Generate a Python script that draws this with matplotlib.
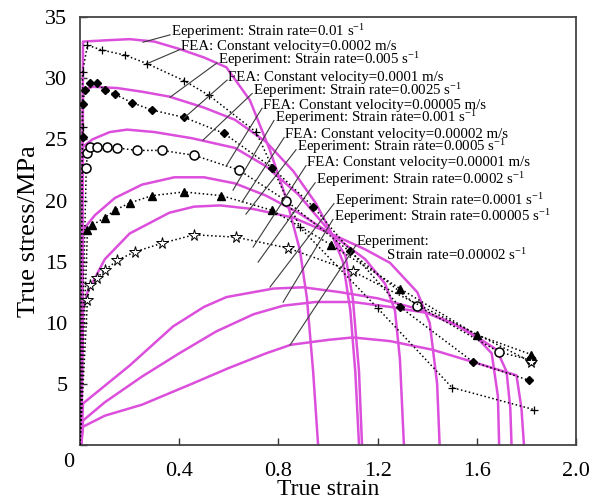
import matplotlib
matplotlib.use('Agg')
import matplotlib.pyplot as plt

plt.rcParams['font.family'] = ['Liberation Serif', 'DejaVu Serif']
plt.rcParams['mathtext.fontset'] = 'custom'
plt.rcParams['mathtext.rm'] = 'Liberation Serif'
plt.rcParams['mathtext.it'] = 'Liberation Serif:italic'

PINK = '#dc4fdc'

# experiment curves (solid pink), strain / stress in MPa
exp_01_x = [0.005, 0.012, 0.1, 0.2, 0.3, 0.4, 0.5, 0.59, 0.685, 0.766, 0.834, 0.887, 0.915, 0.94, 0.96]
exp_01_y = [0, 33.0, 33.1, 33.2, 33.0, 32.4, 31.7, 30.9, 28.2, 24.1, 20.0, 15.9, 12.0, 6.0, 0]
exp_02_x = [0.005, 0.012, 0.05, 0.15, 0.25, 0.36, 0.5, 0.625, 0.75, 0.86, 0.95, 1.01, 1.06, 1.09, 1.11, 1.125]
exp_02_y = [0, 29.0, 29.3, 29.2, 28.9, 28.5, 27.6, 26.6, 24.8, 22.4, 19.8, 17.5, 15.0, 11.0, 6.0, 0]
exp_03_x = [0.005, 0.012, 0.05, 0.12, 0.19, 0.3, 0.45, 0.625, 0.75, 0.88, 1.01, 1.07, 1.1, 1.125, 1.137]
exp_03_y = [0, 24.4, 25.0, 25.6, 25.8, 25.6, 25.1, 24.3, 22.8, 20.5, 17.4, 15.5, 12.0, 6.0, 0]
exp_04_x = [0.005, 0.012, 0.06, 0.14, 0.25, 0.38, 0.5, 0.625, 0.75, 0.88, 1.01, 1.15, 1.23, 1.27, 1.29, 1.306]
exp_04_y = [0, 17.6, 18.8, 20.2, 21.3, 21.9, 21.9, 21.4, 20.4, 19.0, 17.3, 15.2, 13.2, 11.0, 7.0, 0]
exp_05_x = [0.005, 0.012, 0.03, 0.1, 0.2, 0.36, 0.46, 0.565, 0.7, 0.86, 1.01, 1.15, 1.25, 1.36, 1.41, 1.44, 1.45]
exp_05_y = [0, 11.0, 12.5, 15.2, 17.3, 19.0, 19.5, 19.6, 19.3, 18.6, 17.3, 16.0, 14.9, 12.5, 10.0, 5.0, 0]
exp_06_x = [0.005, 0.012, 0.2, 0.375, 0.5, 0.59, 0.78, 0.9, 1.05, 1.2, 1.35, 1.5, 1.6, 1.66, 1.685, 1.69]
exp_06_y = [0, 3.4, 6.5, 9.7, 11.3, 12.1, 12.8, 12.9, 12.5, 12.0, 11.2, 10.0, 8.8, 7.5, 4.0, 0]
exp_07_x = [0.005, 0.012, 0.1, 0.25, 0.4, 0.55, 0.7, 0.82, 0.95, 1.1, 1.25, 1.4, 1.55, 1.68, 1.72, 1.735, 1.74]
exp_07_y = [0, 2.0, 3.5, 5.6, 7.5, 9.3, 10.7, 11.4, 11.7, 11.7, 11.3, 10.8, 9.5, 7.8, 6.0, 3.0, 0]
exp_08_x = [0.005, 0.012, 0.1, 0.25, 0.45, 0.6, 0.75, 0.85, 1.0, 1.1, 1.25, 1.42, 1.6, 1.76, 1.78, 1.79]
exp_08_y = [0, 1.5, 2.4, 3.3, 5.0, 6.3, 7.5, 8.2, 8.6, 8.8, 8.5, 7.8, 6.7, 5.7, 3.0, 0]

# FEA curves (dotted black with markers)
fea_plus_x = [0.0, 0.01, 0.01, 0.03, 0.09, 0.18, 0.27, 0.42, 0.52, 0.71, 0.887, 1.2, 1.5, 1.83]
fea_plus_y = [0, 26.0, 30.5, 32.7, 32.3, 31.9, 31.2, 29.8, 28.6, 25.6, 17.8, 11.2, 4.7, 2.9]
fea_dia_x = [0.0, 0.01, 0.01, 0.02, 0.04, 0.07, 0.1, 0.14, 0.21, 0.29, 0.42, 0.58, 0.774, 0.94, 1.09, 1.29, 1.585, 1.81]
fea_dia_y = [0, 25.2, 27.9, 29.0, 29.6, 29.6, 29.0, 28.7, 28.0, 27.4, 26.8, 25.5, 22.7, 19.5, 15.9, 11.3, 6.8, 5.3]
fea_circ_x = [0.0, 0.025, 0.03, 0.04, 0.07, 0.11, 0.15, 0.23, 0.33, 0.46, 0.64, 0.83, 1.36, 1.69, 1.82]
fea_circ_y = [0, 22.7, 23.9, 24.4, 24.4, 24.4, 24.3, 24.1, 24.1, 23.7, 22.5, 20.0, 11.4, 7.6, 6.95]
fea_tri_x = [0.0, 0.03, 0.05, 0.1, 0.14, 0.2, 0.29, 0.42, 0.57, 0.774, 1.01, 1.29, 1.6, 1.82]
fea_tri_y = [0, 17.6, 18.0, 18.6, 19.2, 19.8, 20.4, 20.7, 20.4, 19.2, 16.4, 12.8, 9.0, 7.4]
fea_star_x = [0.0, 0.03, 0.04, 0.07, 0.1, 0.15, 0.22, 0.33, 0.46, 0.63, 0.84, 1.1, 1.82]
fea_star_y = [0, 11.9, 13.1, 13.7, 14.3, 15.1, 15.8, 16.5, 17.2, 17.0, 16.1, 14.2, 6.8]

S1 = r' s$^{-1}$'
label_texts = [
    'Eeperiment: Strain rate=0.01' + S1,
    'FEA: Constant velocity=0.0002 m/s',
    'Eeperiment: Strain rate=0.005' + S1,
    'FEA: Constant velocity=0.0001 m/s',
    'Eeperiment: Strain rate=0.0025' + S1,
    'FEA: Constant velocity=0.00005 m/s',
    'Eeperiment: Strain rate=0.001' + S1,
    'FEA: Constant velocity=0.00002 m/s',
    'Eeperiment: Strain rate=0.0005' + S1,
    'FEA: Constant velocity=0.00001 m/s',
    'Eeperiment: Strain rate=0.0002' + S1,
    'Eeperiment: Strain rate=0.0001' + S1,
    'Eeperiment: Strain rate=0.00005' + S1,
    'Eeperiment:\n        Strain rate=0.00002' + S1,
]
# where each label sits and where its leader line points
label_x = [0.363, 0.403, 0.552, 0.593, 0.694, 0.734, 0.782, 0.823, 0.871, 0.911, 0.948, 1.024, 1.020, 1.113]
label_y = [33.8, 32.6, 31.5, 30.1, 29.0, 27.8, 26.8, 25.4, 24.4, 23.1, 21.7, 20.0, 18.7, 16.6]
target_x = [0.254, 0.274, 0.363, 0.419, 0.496, 0.589, 0.617, 0.653, 0.669, 0.698, 0.718, 0.766, 0.819, 0.847]
target_y = [32.95, 31.23, 28.45, 26.74, 24.94, 22.81, 20.85, 19.87, 18.89, 16.19, 14.96, 12.92, 11.69, 8.18]

fig = plt.figure(figsize=(5.95, 5.04), dpi=100)
ax = fig.add_axes([0.1345, 0.117, 0.8336, 0.849])

exp_curves = [(exp_01_x, exp_01_y), (exp_02_x, exp_02_y), (exp_03_x, exp_03_y),
              (exp_04_x, exp_04_y), (exp_05_x, exp_05_y), (exp_06_x, exp_06_y),
              (exp_07_x, exp_07_y), (exp_08_x, exp_08_y)]
for xs, ys in exp_curves:
    ax.plot(xs, ys, color=PINK, lw=1.8, zorder=2)

fea_curves = [
    (fea_plus_x, fea_plus_y, dict(marker='+', ms=6, mew=0.9, mfc='k')),
    (fea_dia_x, fea_dia_y, dict(marker='D', ms=4.5, mfc='k')),
    (fea_circ_x, fea_circ_y, dict(marker='o', ms=6.5, mfc='white', mew=1.1)),
    (fea_tri_x, fea_tri_y, dict(marker='^', ms=6, mfc='k')),
    (fea_star_x, fea_star_y, dict(marker='*', ms=8.5, mfc='white', mew=0.7)),
]
for xs, ys, mk in fea_curves:
    ax.plot(xs, ys, ls=':', color='k', lw=1.1, mec='k',
            markevery=list(range(1, len(xs))), zorder=3, **mk)

for txt, lx, ly, gx, gy in zip(label_texts, label_x, label_y, target_x, target_y):
    ax.plot([lx, gx], [ly - 0.25, gy], color='#3a3a3a', lw=0.8, zorder=4)
    va = 'top' if '\n' in txt else 'center'
    ax.text(lx + 0.004, ly + (0.6 if va == 'top' else 0), txt, fontsize=10.7,
            ha='left', va=va, linespacing=0.95, zorder=5)

ax.set_xlim(0, 2.0)
ax.set_ylim(0, 35)
ax.set_xticks([0, 0.4, 0.8, 1.2, 1.6, 2.0])
ax.set_xticklabels(['', '0.4', '0.8', '1.2', '1.6', '2.0'])
ax.set_yticks([0, 5, 10, 15, 20, 25, 30, 35])
ax.set_yticklabels(['', '5', '10', '15', '20', '25', '30', '35'])
ax.tick_params(direction='in', length=5, width=1.0, labelsize=16, colors='#333333',
               labelcolor='black', top=False, right=False)
ax.tick_params(axis='x', pad=12)
ax.tick_params(axis='y', pad=9)
ax.text(-0.012, -0.019, '0', transform=ax.transAxes, fontsize=16, ha='right', va='top')
for sp in ax.spines.values():
    sp.set_color('#444444')
    sp.set_linewidth(1.3)

ax.set_xlabel('True strain', fontsize=17, labelpad=-1)
ax.set_ylabel('True stress/MPa', fontsize=19, labelpad=4)

fig.savefig('out.png', dpi=100)
